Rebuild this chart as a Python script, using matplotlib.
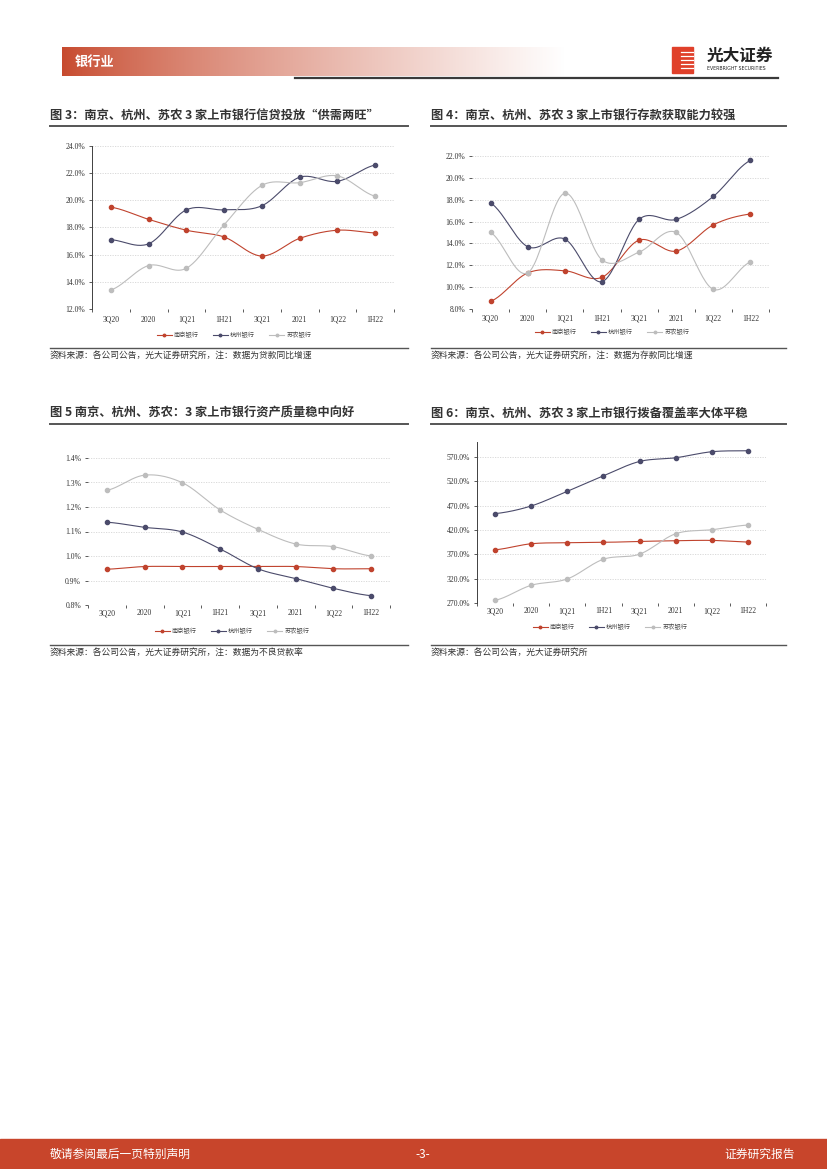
import numpy as np
import matplotlib.pyplot as plt
from matplotlib.patches import Rectangle
from matplotlib.lines import Line2D

plt.rcParams['font.family'] = ['Noto Sans CJK SC', 'DejaVu Sans']

W, H = 827, 1169

periods = ['3Q20', '2020', '1Q21', '1H21', '3Q21', '2021', '1Q22', '1H22']
banks = ['南京银行', '杭州银行', '苏农银行']
colors = ['#C0432E', '#4B4B6B', '#BDBDBD']

# 图3 贷款同比增速 (%)
loan_nj = [19.5, 18.6, 17.8, 17.3, 15.9, 17.2, 17.8, 17.6]
loan_hz = [17.1, 16.8, 19.3, 19.3, 19.6, 21.7, 21.4, 22.6]
loan_sn = [13.4, 15.2, 15.0, 18.2, 21.1, 21.3, 21.8, 20.3]

# 图4 存款同比增速 (%)
dep_nj = [8.7, 11.3, 11.5, 10.9, 14.3, 13.3, 15.7, 16.7]
dep_hz = [17.7, 13.7, 14.4, 10.5, 16.2, 16.2, 18.3, 21.6]
dep_sn = [15.0, 11.3, 18.6, 12.5, 13.2, 15.0, 9.8, 12.3]

# 图5 不良贷款率 (%)
npl_nj = [0.946, 0.957, 0.957, 0.957, 0.957, 0.957, 0.948, 0.948]
npl_hz = [1.138, 1.117, 1.098, 1.029, 0.948, 0.908, 0.868, 0.838]
npl_sn = [1.268, 1.330, 1.299, 1.188, 1.109, 1.049, 1.038, 1.000]

# 图6 拨备覆盖率 (%)
cov_nj = [379.4, 391.8, 393.9, 394.6, 396.6, 398.0, 398.7, 395.3]
cov_hz = [453.7, 469.5, 499.8, 531.5, 561.0, 568.6, 581.0, 583.0]
cov_sn = [275.5, 306.4, 319.5, 360.0, 370.4, 412.4, 420.6, 430.3]


def smooth(y, n=24):
    # Excel-style smoothed line (Catmull-Rom through the points)
    y = np.asarray(y, float)
    p = np.concatenate([[y[0]], y, [y[-1]]])
    xs, ys = [], []
    t = np.linspace(0, 1, n, endpoint=False)
    for i in range(len(y) - 1):
        p0, p1, p2, p3 = p[i], p[i + 1], p[i + 2], p[i + 3]
        ys.append(0.5 * (2 * p1 + (-p0 + p2) * t + (2 * p0 - 5 * p1 + 4 * p2 - p3) * t ** 2
                         + (-p0 + 3 * p1 - 3 * p2 + p3) * t ** 3))
        xs.append(i + t)
    xs.append([len(y) - 1])
    ys.append([y[-1]])
    return np.concatenate(xs), np.concatenate(ys)


fig = plt.figure(figsize=(W / 100, H / 100), dpi=100)

# page decoration in pixel coordinates
bg = fig.add_axes([0, 0, 1, 1], zorder=0)
bg.set_xlim(0, W)
bg.set_ylim(H, 0)
bg.axis('off')

grad = np.linspace(0, 1, 300) ** 0.8
c0 = np.array([0.78, 0.29, 0.18])
img = np.ones((1, 300, 3)) * c0 + (1 - c0) * grad[None, :, None]
bg.imshow(img, extent=(62, 565, 76, 47), aspect='auto', interpolation='bilinear')
bg.text(75, 61.5, '银行业', color='white', fontsize=9.5, fontweight='bold', va='center')
bg.plot([295, 778], [77.5, 77.5], color='#3a3a3a', lw=1.6)

# logo
bg.add_patch(Rectangle((672, 47), 21, 26, color='#E0402A'))
for yy in [52, 56, 60, 64, 68]:
    bg.plot([681, 693], [yy, yy], color='white', lw=0.9)
bg.text(707, 56, '光大证券', fontsize=12, fontweight='bold', color='#222222', va='center')
bg.text(707, 68.5, 'EVERBRIGHT SECURITIES', fontsize=3.3, color='#222222', va='center',
        family=['DejaVu Sans'])

# footer
bg.add_patch(Rectangle((0, 1139), W, 30, color='#C8452B'))
bg.text(50, 1154, '敬请参阅最后一页特别声明', color='white', fontsize=8.5, va='center')
bg.text(423, 1154, '-3-', color='white', fontsize=8.5, va='center', ha='center')
bg.text(795, 1154, '证券研究报告', color='white', fontsize=8.5, va='center', ha='right')


def panel(x0, x1, title, title_y, source, source_y):
    bg.text(x0, title_y, title, fontsize=8.8, fontweight='bold', color='#333333', va='center')
    bg.plot([x0, x1], [title_y + 11, title_y + 11], color='#555555', lw=1.4)
    bg.plot([x0, x1], [source_y - 7, source_y - 7], color='#555555', lw=1.0)
    bg.text(x0, source_y, source, fontsize=6.3, color='#333333', va='center')


def chart(l, r, t, b, series, ylim, yticks, fmt, left_spine, leg_x, leg_y, xpad):
    ax = fig.add_axes([l / W, 1 - b / H, (r - l) / W, (b - t) / H], zorder=2)
    ax.patch.set_alpha(0)
    for vals, c in zip(series, colors):
        xs, ys = smooth(vals)
        ax.plot(xs, ys, color=c, lw=0.8)
        ax.plot(range(len(vals)), vals, 'o', color=c, ms=3)
    ax.set_xlim(-0.5, 7.5)
    ax.set_ylim(*ylim)
    ax.set_yticks(yticks)
    ax.set_yticklabels([fmt.format(v) for v in yticks], family=['Liberation Serif'],
                       fontsize=5.5, color='#333333')
    ax.set_xticks(range(8))
    ax.set_xticklabels(periods, family=['Liberation Serif'], fontsize=5.5, color='#333333')
    ax.set_xticks(np.arange(-0.5, 8, 1), minor=True)
    ax.tick_params(axis='x', which='major', length=0, pad=xpad)
    ax.tick_params(axis='x', which='minor', length=2.5, width=0.6, color='#404040')
    ax.tick_params(axis='y', length=2.5, width=0.6, color='#404040', pad=2.5)
    for s in ['top', 'right', 'bottom']:
        ax.spines[s].set_visible(False)
    ax.spines['left'].set_visible(left_spine)
    ax.spines['left'].set_color('#404040')
    ax.spines['left'].set_linewidth(0.7)
    for v in yticks[1:]:
        ax.axhline(v, color='#D5D5D5', lw=0.6, ls=(0, (1.5, 1.5)), zorder=0)
    handles = [Line2D([], [], color=c, lw=0.8, marker='o', ms=1.8) for c in colors]
    ax.legend(handles, banks, loc='center', bbox_to_anchor=(leg_x / W, 1 - leg_y / H),
              bbox_transform=fig.transFigure, ncol=3, frameon=False, fontsize=4.5,
              handlelength=2.4, columnspacing=2.2, handletextpad=0.4, labelcolor='#444444')
    return ax


panel(50, 408, '图 3：南京、杭州、苏农 3 家上市银行信贷投放“供需两旺”', 115,
      '资料来源：各公司公告，光大证券研究所，注：数据为贷款同比增速', 355)
chart(92, 394, 146, 309, [loan_nj, loan_hz, loan_sn], (12, 24),
      [12, 14, 16, 18, 20, 22, 24], '{:.1f}%', True, 234, 335, 5)

panel(431, 786, '图 4：南京、杭州、苏农 3 家上市银行存款获取能力较强', 115,
      '资料来源：各公司公告，光大证券研究所，注：数据为存款同比增速', 355)
chart(472, 769, 156, 309, [dep_nj, dep_hz, dep_sn], (8, 22),
      [8, 10, 12, 14, 16, 18, 20, 22], '{:.1f}%', False, 612, 332, 4)

panel(50, 408, '图 5 南京、杭州、苏农：3 家上市银行资产质量稳中向好', 413,
      '资料来源：各公司公告，光大证券研究所，注：数据为不良贷款率', 652)
chart(88, 390, 458, 605, [npl_nj, npl_hz, npl_sn], (0.8, 1.4),
      [0.8, 0.9, 1.0, 1.1, 1.2, 1.3, 1.4], '{:.1f}%', False, 232, 631, 3)

panel(431, 786, '图 6：南京、杭州、苏农 3 家上市银行拨备覆盖率大体平稳', 413,
      '资料来源：各公司公告，光大证券研究所', 652)
chart(477, 766, 442, 603, [cov_nj, cov_hz, cov_sn], (270, 601),
      [270, 320, 370, 420, 470, 520, 570], '{:.1f}%', True, 610, 627, 3)

fig.savefig('out.png', dpi=100)
